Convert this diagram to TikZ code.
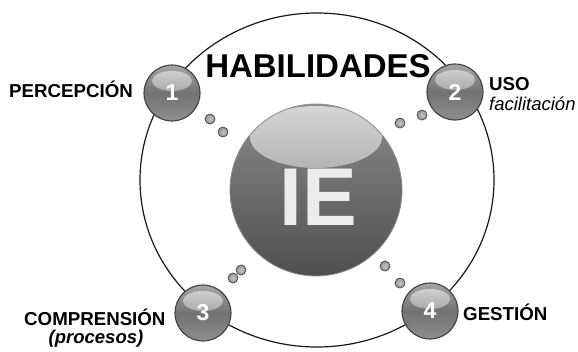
\documentclass[tikz,border=0pt]{standalone}
\usepackage{fontspec}
\setmainfont{Liberation Sans}
\definecolor{ballA}{HTML}{A6A6A6}
\definecolor{ballB}{HTML}{727272}
\definecolor{ballC}{HTML}{8E8E8E}
\definecolor{glossA}{HTML}{DADADA}
\definecolor{bigA}{HTML}{8A8A8A}
\definecolor{bigB}{HTML}{4F4F4F}
\definecolor{bigGlossA}{HTML}{D6D6D6}
\definecolor{bigGlossB}{HTML}{7C7C7C}
\definecolor{ieText}{HTML}{ECECEC}
\tikzset{
  smallball/.style={circle, minimum size=56pt, inner sep=0pt, draw=black!75, line width=1.1pt,
    top color=ballA, bottom color=ballC, middle color=ballB,
    path picture={\shade[top color=glossA, bottom color=ballB]
      ([yshift=12pt]path picture bounding box.center) ellipse [x radius=20pt, y radius=10pt];},
    text=white, font=\fontsize{23}{23}\selectfont\bfseries},
  bigball/.style={circle, minimum size=172pt, inner sep=0pt, draw=black!45, line width=0.8pt,
    top color=bigA, bottom color=bigB,
    path picture={\shade[top color=bigGlossA, bottom color=bigGlossB]
      ([yshift=53pt]path picture bounding box.center) ellipse [x radius=66pt, y radius=31pt];}},
  dotball/.style={circle, minimum size=10pt, inner sep=0pt, draw=black!70, line width=0.8pt,
    inner color=gray!45, outer color=gray!85},
  lbl/.style={inner sep=0pt, font=\fontsize{18.7}{20}\selectfont\bfseries},
  sublbl/.style={inner sep=0pt, font=\fontsize{18.5}{20}\selectfont\itshape},
}
\begin{document}
\begin{tikzpicture}[x=1pt,y=-1pt]
\useasboundingbox (0,0) rectangle (578,351);
% outer ring
\draw[line width=1.2pt, black!90] (317,180) ellipse [x radius=177pt, y radius=167pt];
% title
\node[inner sep=0pt, anchor=base, font=\fontsize{33}{36}\selectfont\bfseries] (title) at (318,77) {HABILIDADES};
% central ball
\node[bigball] (ie) at (316,190) {};
\node[inner sep=0pt, anchor=base, text=ieText, font=\fontsize{82}{82}\selectfont\bfseries] (ietext) at (318,225) {IE};
% numbered balls
\node[smallball] (b1) at (172,93) {1};
\node[smallball] (b2) at (455,92) {2};
\node[smallball] (b3) at (203,313) {3};
\node[smallball] (b4) at (430,311) {4};
% small dots
\node[dotball] (d1a) at (210,119) {};
\node[dotball] (d1b) at (223,132) {};
\node[dotball] (d2a) at (400,123) {};
\node[dotball] (d2b) at (422,115) {};
\node[dotball] (d3a) at (233,278) {};
\node[dotball] (d3b) at (241,270) {};
\node[dotball] (d4a) at (385,266) {};
\node[dotball] (d4b) at (400,283) {};
% labels
\node[lbl, anchor=base west] (l1) at (9,97) {PERCEPCIÓN};
\node[lbl, anchor=base west] (l2) at (489,90) {USO};
\node[sublbl, anchor=base west] (l2b) at (489,110) {facilitación};
\node[lbl, anchor=base west] (l3) at (24,325) {COMPRENSIÓN};
\node[inner sep=0pt, anchor=base, font=\fontsize{18.5}{20}\selectfont\bfseries\itshape] (l3b) at (96,343) {(procesos)};
\node[lbl, anchor=base west] (l4) at (463,320) {GESTIÓN};
\end{tikzpicture}
\end{document}
